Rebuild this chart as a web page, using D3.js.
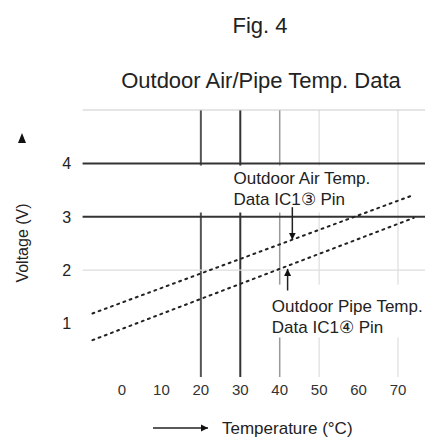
<!DOCTYPE html>
<html>
<head>
<meta charset="utf-8">
<script src="https://cdn.jsdelivr.net/npm/d3@7"></script>
<style>
  html, body { margin: 0; padding: 0; background: #fff; }
  svg { display: block; font-family: "Liberation Sans", Arial, sans-serif; }
</style>
</head>
<body>
<svg id="chart" width="425" height="440"></svg>
<script>
// ---- data ----
const figLabel = "Fig. 4";
const chartTitle = "Outdoor Air/Pipe Temp. Data";
const xTicks = [0, 10, 20, 30, 40, 50, 60, 70];
const yTicks = [1, 2, 3, 4];
const xGridTemps = [20, 30, 40, 50, 70];
const yGridVolts = [2, 3, 4, 5];
const airTemps = [-7.5, 74];
const airVolts = [1.19, 3.41];
const pipeTemps = [-7.5, 74];
const pipeVolts = [0.69, 2.98];
const airLabel = ["Outdoor Air Temp.", "Data IC1\u2462 Pin"];
const pipeLabel = ["Outdoor Pipe Temp.", "Data IC1\u2463 Pin"];
const xTitle = "Temperature (\u00B0C)";
const yTitle = "Voltage (V)";

// ---- layout ----
const svg = d3.select("#chart");
const x = d3.scaleLinear().domain([0, 70]).range([122, 398]);
const y = d3.scaleLinear().domain([0, 5]).range([377, 110]);

const vStyle = {20: ["#555", 2], 30: ["#333", 2], 40: ["#999", 1.5], 50: ["#ddd", 1.2], 70: ["#ddd", 1.2]};
const hStyle = {2: ["#ddd", 1.2], 3: ["#333", 2], 4: ["#333", 2], 5: ["#ccc", 1.2]};

svg.append("defs").html(`
  <marker id="ah" viewBox="0 0 10 10" refX="10" refY="5" markerWidth="7" markerHeight="9" orient="auto" markerUnits="userSpaceOnUse">
    <path d="M0,0 L10,5 L0,10 Z" fill="#111"/>
  </marker>`);

// vertical grid lines
svg.append("g").selectAll("line").data(xGridTemps).join("line")
  .attr("x1", d => x(d)).attr("x2", d => x(d))
  .attr("y1", y(5)).attr("y2", y(0))
  .attr("stroke", d => vStyle[d][0]).attr("stroke-width", d => vStyle[d][1]);

// white label backgrounds that break the vertical lines
svg.append("rect").attr("x", x(18.5)).attr("y", y(3.96)).attr("width", x(66) - x(18.5))
  .attr("height", y(3.08) - y(3.96)).attr("fill", "#fff");
svg.append("rect").attr("x", x(36)).attr("y", y(1.73)).attr("width", 425 - x(36))
  .attr("height", y(0.74) - y(1.73)).attr("fill", "#fff");

// horizontal grid lines
svg.append("g").selectAll("line").data(yGridVolts).join("line")
  .attr("x1", x(-10)).attr("x2", 425)
  .attr("y1", d => y(d)).attr("y2", d => y(d))
  .attr("stroke", d => hStyle[d][0]).attr("stroke-width", d => hStyle[d][1]);

// dotted characteristic lines
const line = d3.line().x(d => x(d[0])).y(d => y(d[1]));
[[airTemps, airVolts], [pipeTemps, pipeVolts]].forEach(([ts, vs]) => {
  svg.append("path").datum(ts.map((t, i) => [t, vs[i]]))
    .attr("d", line).attr("fill", "none")
    .attr("stroke", "#222").attr("stroke-width", 2)
    .attr("stroke-dasharray", "2,4.6").attr("stroke-linecap", "round");
});

// interpolate on a line from its two end points (for arrow tips)
const at = (ts, vs, t) => vs[0] + (vs[1] - vs[0]) * (t - ts[0]) / (ts[1] - ts[0]);

// arrows
const ta = 43.2;
svg.append("line").attr("x1", x(ta)).attr("x2", x(ta))
  .attr("y1", y(3.18)).attr("y2", y(at(airTemps, airVolts, ta)))
  .attr("stroke", "#222").attr("stroke-width", 1.5).attr("marker-end", "url(#ah)");
const tp = 42;
svg.append("line").attr("x1", x(tp)).attr("x2", x(tp))
  .attr("y1", y(1.62)).attr("y2", y(at(pipeTemps, pipeVolts, tp)) + 3)
  .attr("stroke", "#222").attr("stroke-width", 1.5).attr("marker-end", "url(#ah)");

// labels
const lab = svg.append("g").attr("fill", "#222").attr("font-size", 17);
airLabel.forEach((s, i) => lab.append("text").attr("x", x(28.3)).attr("y", 184 + i * 21).text(s));
pipeLabel.forEach((s, i) => lab.append("text").attr("x", x(38)).attr("y", 312 + i * 21).text(s));

// tick labels
svg.append("g").selectAll("text").data(xTicks).join("text")
  .attr("x", d => x(d)).attr("y", y(0) + 18)
  .attr("text-anchor", "middle").attr("font-size", 15).attr("fill", "#333")
  .text(d => d);
svg.append("g").selectAll("text").data(yTicks).join("text")
  .attr("x", x(-14)).attr("y", d => y(d)).attr("dy", "0.36em")
  .attr("text-anchor", "middle").attr("font-size", 16).attr("fill", "#222")
  .text(d => d);

// titles
svg.append("text").attr("x", 260).attr("y", 33).attr("text-anchor", "middle")
  .attr("font-size", 22).attr("fill", "#222").text(figLabel);
svg.append("text").attr("x", 261).attr("y", 88).attr("text-anchor", "middle")
  .attr("font-size", 22).attr("fill", "#222").text(chartTitle);

// x axis title with arrow
svg.append("line").attr("x1", 153).attr("x2", 208).attr("y1", 428).attr("y2", 428)
  .attr("stroke", "#222").attr("stroke-width", 1.5).attr("marker-end", "url(#ah)");
svg.append("text").attr("x", 222).attr("y", 434).attr("font-size", 17).attr("fill", "#222").text(xTitle);

// y axis title with arrowhead
svg.append("text").attr("transform", "translate(28,243) rotate(-90)")
  .attr("text-anchor", "middle").attr("font-size", 16).attr("fill", "#222").text(yTitle);
svg.append("path").attr("d", "M18,143 L22,133 L26,143 Z").attr("fill", "#111");
</script>
</body>
</html>
